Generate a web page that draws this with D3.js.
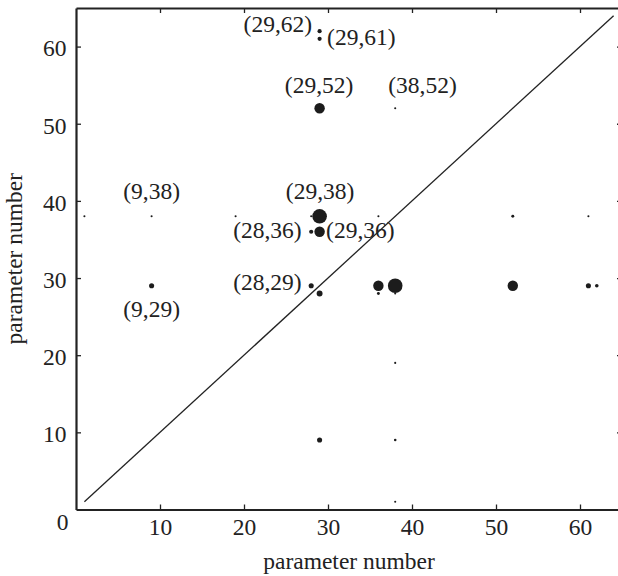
<!DOCTYPE html>
<html>
<head>
<meta charset="utf-8">
<script src="https://cdn.jsdelivr.net/npm/d3@7"></script>
<style>
  body { margin: 0; background: #fff; }
  svg { display: block; }
  text { font-family: "Liberation Serif", "Times New Roman", serif; fill: #222; }
</style>
</head>
<body>
<svg id="chart" width="618" height="576"></svg>
<script>
// parameter pairs (x = parameter number, y = parameter number)
const pairX = [29, 29, 29, 38, 1, 9, 19, 28, 29, 36, 52, 61, 28, 29, 9, 28, 36, 38, 52, 61, 62, 29, 36, 38, 38, 29, 38, 38];
const pairY = [62, 61, 52, 52, 38, 38, 38, 38, 38, 38, 38, 38, 36, 36, 29, 29, 29, 29, 29, 29, 29, 28, 28, 28, 19, 9, 9, 1];
// relative weight of each pair (drawn as dot size)
const pairWeight = [4, 4, 25, 1, 1, 1, 1, 1, 49, 1, 2, 1, 4, 25, 6, 6, 25, 49, 25, 6, 3, 8, 2, 1, 1, 6, 1.5, 1];

const labelText = ["(29,62)", "(29,61)", "(29,52)", "(38,52)", "(9,38)", "(29,38)", "(28,36)", "(29,36)", "(28,29)", "(9,29)"];
const tickValues = [10, 20, 30, 40, 50, 60];
const diagonal = [1, 64];

const width = 618;
const height = 576;
const fontSize = 23.5;

const svg = d3.select("#chart");

const xScale = d3.scaleLinear().domain([0, 65]).range([76, 622]);
const yScale = d3.scaleLinear().domain([0, 65]).range([509.5, 8]);
const rScale = d3.scaleSqrt().domain([0, 49]).range([0, 7.3]);

const ink = "#222";

// axes box, ticks point inward
const styleAxis = function (g) {
  g.select(".domain").attr("stroke", ink).attr("stroke-width", 2.2);
  g.selectAll(".tick line").attr("stroke", ink).attr("stroke-width", 1.3);
  g.selectAll(".tick text")
    .attr("font-size", fontSize)
    .attr("font-family", "Liberation Serif, Times New Roman, serif")
    .attr("fill", ink);
};

svg.append("g")
  .attr("transform", `translate(0,${yScale(0)})`)
  .call(d3.axisBottom(xScale).tickValues(tickValues).tickSizeInner(-5).tickSizeOuter(0).tickPadding(9))
  .call(styleAxis);

svg.append("g")
  .attr("transform", `translate(0,${yScale(65)})`)
  .call(d3.axisTop(xScale).tickValues(tickValues).tickSizeInner(-5).tickSizeOuter(0).tickFormat(""))
  .call(styleAxis);

svg.append("g")
  .attr("transform", `translate(${xScale(0)},0)`)
  .call(d3.axisLeft(yScale).tickValues(tickValues).tickSizeInner(-5).tickSizeOuter(0).tickPadding(9.5))
  .call(styleAxis)
  .selectAll(".tick text")
  .attr("dy", "0.4em");

svg.append("g")
  .attr("transform", `translate(${xScale(65)},0)`)
  .call(d3.axisRight(yScale).tickValues(tickValues).tickSizeInner(-5).tickSizeOuter(0).tickFormat(""))
  .call(styleAxis);

// shared origin label
svg.append("text")
  .attr("x", xScale(0) - 13.5)
  .attr("y", yScale(0) + 20.5)
  .attr("text-anchor", "middle")
  .attr("font-size", fontSize)
  .text("0");

// y = x reference line
svg.append("path")
  .datum(diagonal)
  .attr("d", d3.line()
    .x(function (d) { return xScale(d); })
    .y(function (d) { return yScale(d); }))
  .attr("fill", "none")
  .attr("stroke", ink)
  .attr("stroke-width", 1.3);

const points = pairX.map(function (x, i) {
  return { x: x, y: pairY[i], w: pairWeight[i] };
});

svg.selectAll("circle.pair")
  .data(points)
  .join("circle")
  .attr("class", "pair")
  .attr("cx", function (d) { return xScale(d.x); })
  .attr("cy", function (d) { return yScale(d.y); })
  .attr("r", function (d) { return Math.max(rScale(d.w), 1); })
  .attr("fill", "#1c1c1c");

// where each label sits relative to its dot
const labelLayout = {
  "(29,62)": { anchor: "end", dx: -7.5, dy: 1 },
  "(29,61)": { anchor: "start", dx: 7.5, dy: 6.5 },
  "(29,52)": { anchor: "middle", dx: -0.5, dy: -15.3 },
  "(38,52)": { anchor: "start", dx: -7, dy: -15.5 },
  "(9,38)": { anchor: "middle", dx: 0, dy: -17.5 },
  "(29,38)": { anchor: "middle", dx: 0.5, dy: -17.8 },
  "(28,36)": { anchor: "end", dx: -9.5, dy: 6 },
  "(29,36)": { anchor: "start", dx: 6.5, dy: 6 },
  "(28,29)": { anchor: "end", dx: -9.5, dy: 4 },
  "(9,29)": { anchor: "middle", dx: 0, dy: 31 }
};

const labels = labelText.map(function (t) {
  const v = t.replace(/[()]/g, "").split(",").map(Number);
  return { text: t, x: v[0], y: v[1] };
});

svg.selectAll("text.pair-label")
  .data(labels)
  .join("text")
  .attr("class", "pair-label")
  .attr("x", function (d) { return xScale(d.x) + labelLayout[d.text].dx; })
  .attr("y", function (d) { return yScale(d.y) + labelLayout[d.text].dy; })
  .attr("text-anchor", function (d) { return labelLayout[d.text].anchor; })
  .attr("font-size", fontSize)
  .text(function (d) { return d.text; });

// axis titles
svg.append("text")
  .attr("x", (xScale(0) + xScale(65)) / 2)
  .attr("y", 569)
  .attr("text-anchor", "middle")
  .attr("font-size", fontSize)
  .text("parameter number");

svg.append("text")
  .attr("transform", `translate(22,${(yScale(0) + yScale(65)) / 2}) rotate(-90)`)
  .attr("text-anchor", "middle")
  .attr("font-size", fontSize)
  .text("parameter number");
</script>
</body>
</html>
